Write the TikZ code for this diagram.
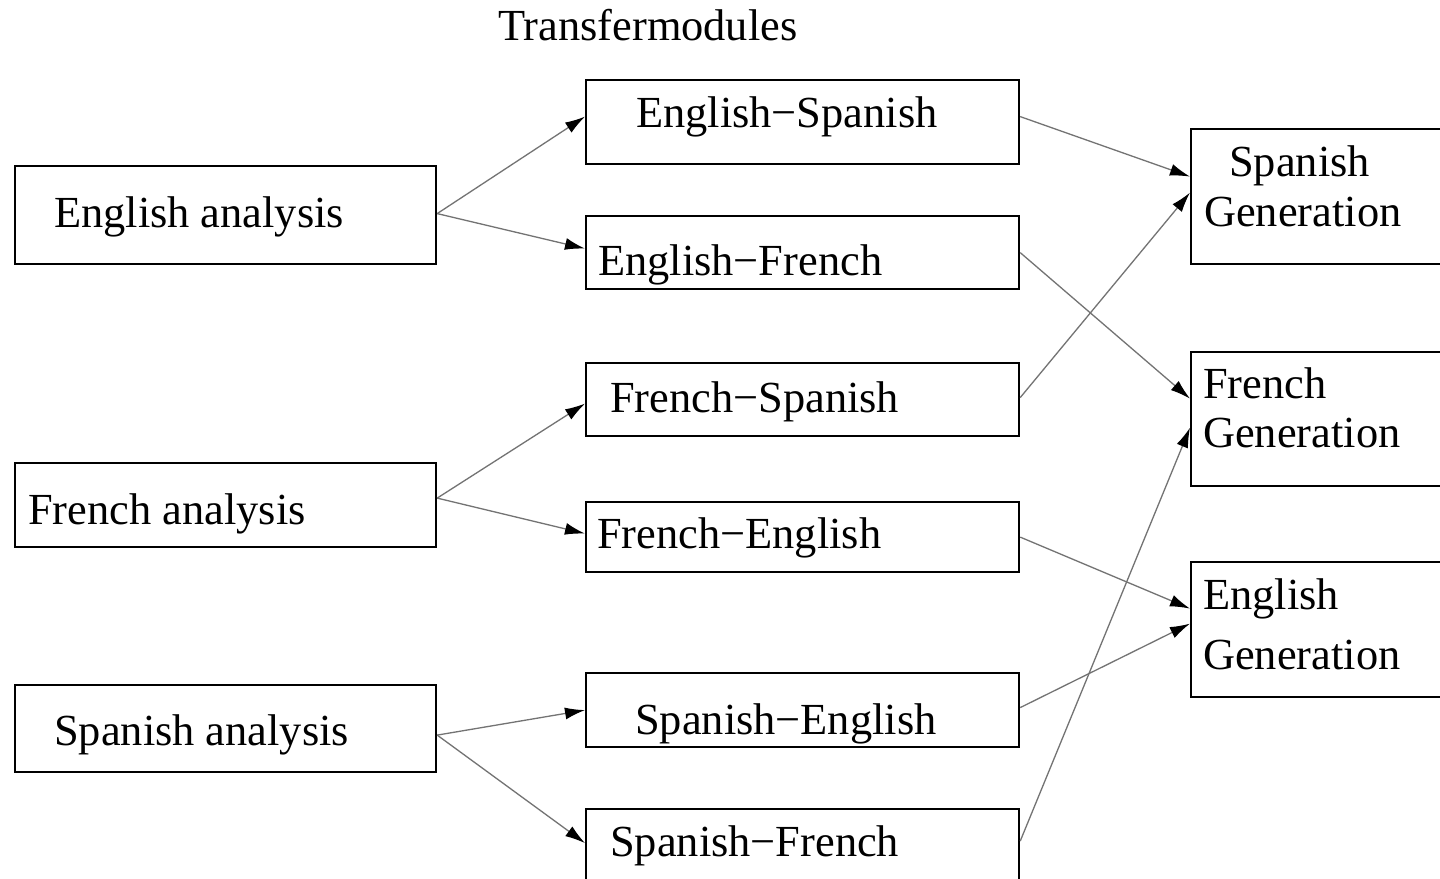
\documentclass[tikz,border=0pt]{standalone}
\usepackage{fontspec}
\setmainfont{Liberation Serif}
\usetikzlibrary{arrows.meta}
\begin{document}
\begin{tikzpicture}[x=1pt,y=-1pt,
  box/.style={draw=black,line width=2.2pt,rectangle,inner sep=0pt,anchor=north west},
  lbl/.style={inner sep=0pt,anchor=base west,font=\fontsize{44.4}{50}\selectfont},
  flow/.style={draw=black!55,line width=1.3pt,
    -{Latex[length=20pt,width=12pt,color=black]}}]
\clip (0,0) rectangle (1440,878);
\fill[white] (0,0) rectangle (1440,878);

% heading
\node[lbl] (head) at (498,40) {Transfermodules};

% analysis modules
\node[box,minimum width=421pt,minimum height=98pt] (ea) at (14,165) {};
\node[box,minimum width=421pt,minimum height=84pt] (fa) at (14,462) {};
\node[box,minimum width=421pt,minimum height=87pt] (sa) at (14,684) {};
\node[lbl] (tea) at (54,227) {English analysis};
\node[lbl] (tfa) at (28,524) {French analysis};
\node[lbl] (tsa) at (54,745) {Spanish analysis};

% transfer modules
\node[box,minimum width=433pt,minimum height=84pt] (es) at (585,79) {};
\node[box,minimum width=433pt,minimum height=73pt] (ef) at (585,215) {};
\node[box,minimum width=433pt,minimum height=73pt] (fs) at (585,362) {};
\node[box,minimum width=433pt,minimum height=70pt] (fe) at (585,501) {};
\node[box,minimum width=433pt,minimum height=74pt] (se) at (585,672) {};
\node[box,minimum width=433pt,minimum height=72pt] (sf) at (585,808) {};
\node[lbl] (tes) at (636,127) {English−Spanish};
\node[lbl] (tef) at (598,275) {English−French};
\node[lbl] (tfs) at (610,412) {French−Spanish};
\node[lbl] (tfe) at (597,548) {French−English};
\node[lbl] (tse) at (635,734) {Spanish−English};
\node[lbl] (tsf) at (610,856) {Spanish−French};

% generation modules
\node[box,minimum width=270pt,minimum height=135pt] (sg) at (1190,128) {};
\node[box,minimum width=270pt,minimum height=134pt] (fg) at (1190,351) {};
\node[box,minimum width=270pt,minimum height=135pt] (eg) at (1190,561) {};
\node[lbl] (tsg1) at (1229,176) {Spanish};
\node[lbl] (tsg2) at (1204,226) {Generation};
\node[lbl] (tfg1) at (1203,398) {French};
\node[lbl] (tfg2) at (1203,447) {Generation};
\node[lbl] (teg1) at (1203,609) {English};
\node[lbl] (teg2) at (1203,669) {Generation};

% analysis -> transfer
\draw[flow] ([yshift=1.5pt]ea.east) -- ([yshift=5.5pt]es.west);
\draw[flow] ([yshift=1.5pt]ea.east) -- ([yshift=4pt]ef.west);
\draw[flow] ([yshift=7pt]fa.east) -- ([yshift=-4pt]fs.west);
\draw[flow] ([yshift=7pt]fa.east) -- ([yshift=3.5pt]fe.west);
\draw[flow] ([yshift=-6.5pt]sa.east) -- (se.west);
\draw[flow] ([yshift=-6.5pt]sa.east) -- ([yshift=2pt]sf.west);

% transfer -> generation
\draw[flow] ([yshift=5.5pt]es.east) -- ([yshift=20pt]sg.west);
\draw[flow] ([yshift=2pt]fs.east) -- ([yshift=4pt]sg.west);
\draw[flow] (ef.east) -- ([yshift=20.5pt]fg.west);
\draw[flow] ([yshift=4pt]sf.east) -- ([yshift=-8.5pt]fg.west);
\draw[flow] (fe.east) -- ([yshift=21pt]eg.west);
\draw[flow] ([yshift=2.5pt]se.east) -- ([yshift=6pt]eg.west);
\end{tikzpicture}
\end{document}
